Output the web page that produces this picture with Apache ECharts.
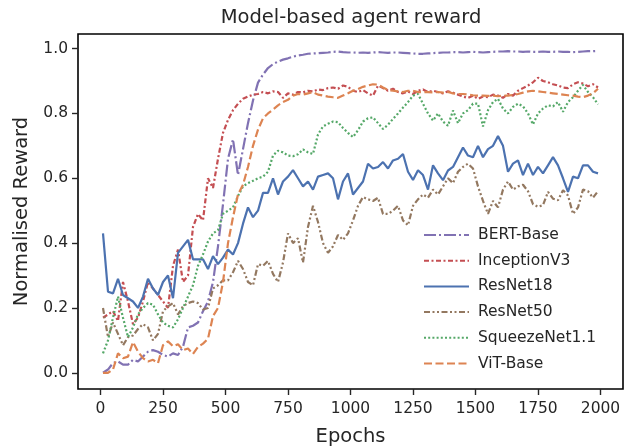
<!DOCTYPE html>
<html>
<head>
<meta charset="utf-8">
<script src="https://cdn.jsdelivr.net/npm/echarts@6/dist/echarts.min.js"></script>
<style>
  html, body { margin: 0; padding: 0; background: #ffffff; }
  #chart { width: 626px; height: 448px; }
</style>
</head>
<body>
<div id="chart"></div>
<script>
// epochs (x values)
var epochs = [10,30,50,70,90,110,130,150,170,190,210,230,250,270,290,310,330,350,370,390,
  410,430,450,470,490,510,530,550,570,590,610,630,650,670,690,710,730,750,770,790,
  810,830,850,870,890,910,930,950,970,990,1010,1030,1050,1070,1090,1110,1130,1150,1170,1190,
  1210,1230,1250,1270,1290,1310,1330,1350,1370,1390,1410,1430,1450,1470,1490,1510,1530,1550,1570,1590,
  1610,1630,1650,1670,1690,1710,1730,1750,1770,1790,1810,1830,1850,1870,1890,1910,1930,1950,1970,1990];

var bertBase = [0.0,0.01,0.03,0.035,0.025,0.025,0.04,0.035,0.05,0.065,0.07,0.065,0.055,0.05,0.06,0.055,0.08,0.14,0.145,0.155,
  0.19,0.22,0.28,0.39,0.52,0.66,0.72,0.61,0.69,0.77,0.84,0.895,0.92,0.94,0.952,0.96,0.966,0.97,0.975,0.979,
  0.981,0.984,0.985,0.986,0.987,0.988,0.99,0.991,0.989,0.988,0.988,0.987,0.988,0.987,0.988,0.989,0.988,0.987,0.988,0.988,
  0.987,0.986,0.985,0.984,0.984,0.985,0.986,0.987,0.988,0.988,0.989,0.989,0.988,0.989,0.99,0.989,0.988,0.989,0.99,0.991,
  0.991,0.992,0.991,0.991,0.99,0.991,0.99,0.99,0.991,0.99,0.99,0.991,0.99,0.99,0.989,0.99,0.991,0.992,0.992,0.993];

var inceptionV3 = [0.17,0.18,0.19,0.16,0.28,0.22,0.15,0.17,0.22,0.28,0.26,0.24,0.22,0.20,0.33,0.38,0.28,0.30,0.45,0.49,
  0.47,0.60,0.57,0.66,0.74,0.78,0.81,0.83,0.845,0.852,0.858,0.86,0.866,0.862,0.868,0.866,0.848,0.862,0.858,0.866,
  0.865,0.87,0.868,0.874,0.872,0.878,0.88,0.876,0.886,0.882,0.87,0.866,0.872,0.862,0.855,0.886,0.878,0.87,0.876,0.866,
  0.862,0.868,0.86,0.87,0.874,0.866,0.87,0.866,0.862,0.868,0.864,0.858,0.852,0.848,0.855,0.845,0.852,0.85,0.858,0.855,
  0.848,0.86,0.855,0.87,0.878,0.886,0.896,0.91,0.9,0.896,0.89,0.886,0.88,0.878,0.89,0.896,0.892,0.884,0.89,0.88];

var resNet18 = [0.43,0.25,0.245,0.29,0.24,0.23,0.22,0.20,0.235,0.29,0.26,0.24,0.28,0.30,0.23,0.37,0.39,0.41,0.35,0.35,
  0.35,0.32,0.36,0.335,0.355,0.38,0.365,0.40,0.46,0.51,0.48,0.50,0.555,0.555,0.60,0.55,0.59,0.605,0.625,0.60,
  0.575,0.59,0.565,0.605,0.61,0.615,0.60,0.535,0.59,0.615,0.55,0.57,0.59,0.645,0.63,0.635,0.65,0.63,0.655,0.66,
  0.675,0.62,0.595,0.625,0.61,0.565,0.64,0.615,0.594,0.624,0.635,0.665,0.695,0.67,0.665,0.70,0.665,0.69,0.70,0.73,
  0.70,0.62,0.645,0.655,0.61,0.645,0.61,0.635,0.615,0.64,0.665,0.64,0.60,0.558,0.605,0.60,0.64,0.64,0.62,0.615];

var resNet50 = [0.20,0.11,0.155,0.12,0.085,0.11,0.115,0.135,0.15,0.14,0.10,0.12,0.19,0.205,0.215,0.18,0.205,0.215,0.22,0.215,
  0.195,0.20,0.26,0.27,0.285,0.285,0.31,0.345,0.32,0.28,0.27,0.335,0.33,0.345,0.305,0.28,0.34,0.43,0.40,0.415,
  0.34,0.45,0.515,0.465,0.40,0.37,0.39,0.425,0.41,0.43,0.47,0.515,0.542,0.535,0.53,0.54,0.49,0.49,0.50,0.515,
  0.47,0.455,0.515,0.535,0.55,0.54,0.565,0.55,0.575,0.60,0.585,0.62,0.635,0.645,0.63,0.575,0.53,0.49,0.53,0.51,
  0.565,0.59,0.565,0.575,0.58,0.56,0.52,0.512,0.517,0.558,0.537,0.532,0.563,0.547,0.49,0.51,0.565,0.56,0.54,0.56];

var squeezeNet = [0.06,0.10,0.17,0.235,0.17,0.11,0.14,0.18,0.20,0.215,0.21,0.18,0.155,0.145,0.14,0.165,0.20,0.235,0.27,0.33,
  0.365,0.405,0.43,0.44,0.49,0.50,0.51,0.545,0.575,0.585,0.592,0.60,0.605,0.62,0.67,0.685,0.68,0.67,0.668,0.674,
  0.689,0.68,0.675,0.735,0.76,0.768,0.775,0.773,0.755,0.74,0.727,0.748,0.775,0.785,0.788,0.77,0.752,0.765,0.783,0.80,
  0.818,0.835,0.855,0.86,0.83,0.80,0.778,0.80,0.775,0.762,0.809,0.77,0.80,0.81,0.83,0.83,0.76,0.81,0.835,0.845,
  0.815,0.80,0.82,0.83,0.822,0.80,0.766,0.80,0.815,0.825,0.822,0.835,0.805,0.835,0.85,0.87,0.888,0.866,0.85,0.828];

var vitBase = [0.0,0.0,0.01,0.06,0.045,0.05,0.095,0.065,0.045,0.035,0.04,0.03,0.085,0.097,0.082,0.088,0.07,0.075,0.058,0.08,
  0.09,0.105,0.175,0.20,0.28,0.40,0.48,0.55,0.58,0.635,0.70,0.75,0.785,0.80,0.812,0.825,0.835,0.842,0.855,0.86,
  0.858,0.862,0.866,0.858,0.855,0.852,0.85,0.848,0.855,0.862,0.87,0.875,0.882,0.886,0.89,0.889,0.88,0.872,0.87,0.868,
  0.866,0.87,0.87,0.866,0.866,0.866,0.865,0.866,0.864,0.866,0.862,0.86,0.86,0.858,0.856,0.855,0.855,0.854,0.855,0.853,
  0.855,0.855,0.857,0.86,0.864,0.868,0.87,0.868,0.866,0.864,0.862,0.86,0.858,0.856,0.855,0.852,0.85,0.855,0.862,0.876];

var xTicks = [0,250,500,750,1000,1250,1500,1750,2000];
var yTicks = [0,0.2,0.4,0.6,0.8,1.0];

var seriesNames = ['BERT-Base','InceptionV3','ResNet18','ResNet50','SqueezeNet1.1','ViT-Base'];
var seriesData = [bertBase, inceptionV3, resNet18, resNet50, squeezeNet, vitBase];
var colors = ['#8172B3','#C44E52','#4C72B0','#937860','#55A868','#DD8452'];
var dashes = [[12,3,2,3],[5,2.5,2,2.5],'solid',[6,2.5,2,2.5,2,2.5],[2,2.2],[8,3.5]];

var font = 'DejaVu Sans';
var textColor = '#262626';

var chart = echarts.init(document.getElementById('chart'));

var series = seriesNames.map(function(name, k){
  return {
    name: name,
    type: 'line',
    symbol: 'none',
    showSymbol: false,
    data: epochs.map(function(e, i){ return [e, seriesData[k][i]]; }),
    lineStyle: { color: colors[k], width: 2.2, type: dashes[k] },
    itemStyle: { color: colors[k] }
  };
});

var option = {
  backgroundColor: '#ffffff',
  animation: false,
  color: colors,
  textStyle: { fontFamily: font },
  grid: {
    left: 78, top: 34, right: 3, bottom: 59,
    outerBoundsMode: 'none',
    containLabel: false,
    show: true, borderColor: '#000000', borderWidth: 1.6, backgroundColor: 'transparent'
  },
  graphic: [{
    type: 'text',
    x: 351, y: 18,
    style: {
      text: 'Model-based agent reward',
      fill: textColor,
      font: '19.5px "DejaVu Sans"',
      align: 'center', verticalAlign: 'middle',
      textAlign: 'center', textVerticalAlign: 'middle'
    }
  }],
  legend: {
    orient: 'vertical',
    left: 418, top: 222,
    itemWidth: 45, itemHeight: 14, itemGap: 9.7,
    itemStyle: { opacity: 0 },
    textStyle: { fontSize: 15.5, color: textColor, fontFamily: font, padding: [0,0,0,4] },
    data: seriesNames
  },
  xAxis: {
    type: 'value',
    min: -90, max: 2090,
    name: 'Epochs',
    nameLocation: 'middle',
    nameGap: 38,
    nameTextStyle: { fontSize: 19.5, color: textColor, fontFamily: font },
    axisLine: { show: false, onZero: false },
    axisTick: { show: true, inside: false, length: 6, lineStyle: { color: '#262626', width: 1.4 }, customValues: xTicks },
    axisLabel: { fontSize: 15.5, color: textColor, fontFamily: font, margin: 12, customValues: xTicks,
      formatter: function(v){ return String(v); } },
    splitLine: { show: false }
  },
  yAxis: {
    type: 'value',
    min: -0.05, max: 1.045,
    name: 'Normalised Reward',
    nameLocation: 'middle',
    nameGap: 46,
    nameTextStyle: { fontSize: 19.5, color: textColor, fontFamily: font },
    axisLine: { show: false, onZero: false },
    axisTick: { show: true, inside: false, length: 6, lineStyle: { color: '#262626', width: 1.4 }, customValues: yTicks },
    axisLabel: { fontSize: 15.5, color: textColor, fontFamily: font, margin: 10, customValues: yTicks,
      formatter: function(v){ return v.toFixed(1); } },
    splitLine: { show: false }
  },
  series: series
};

chart.setOption(option);
</script>
</body>
</html>
